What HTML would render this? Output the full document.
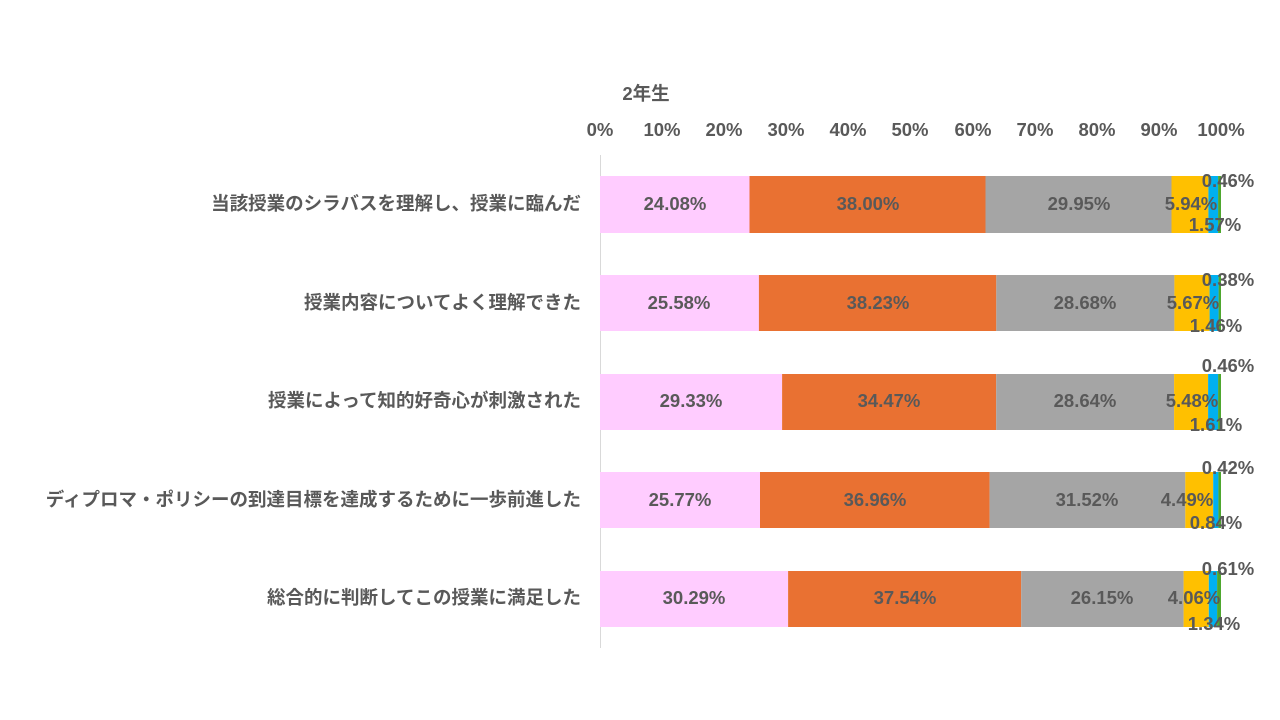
<!DOCTYPE html>
<html><head><meta charset="utf-8"><style>body{margin:0;background:#fff}svg{display:block}text{font-family:"Liberation Sans","Noto Sans CJK JP",sans-serif;font-weight:bold;fill:#595959;font-size:18.5px}</style></head><body>
<svg width="1280" height="720" viewBox="0 0 1280 720">
<text x="646" y="100" text-anchor="middle">2年生</text>
<g text-anchor="middle">
<text x="600" y="136">0%</text><text x="662" y="136">10%</text><text x="724" y="136">20%</text><text x="786" y="136">30%</text><text x="848" y="136">40%</text><text x="910" y="136">50%</text><text x="973" y="136">60%</text><text x="1035" y="136">70%</text><text x="1097" y="136">80%</text><text x="1159" y="136">90%</text><text x="1221" y="136">100%</text>
</g>
<line x1="600.5" y1="155" x2="600.5" y2="648" stroke="#d9d9d9"/>
<g text-anchor="end">
<text x="581" y="210">当該授業のシラバスを理解し、授業に臨んだ</text>
<text x="581" y="309">授業内容についてよく理解できた</text>
<text x="581" y="407">授業によって知的好奇心が刺激された</text>
<text x="581" y="506">ディプロマ・ポリシーの到達目標を達成するために一歩前進した</text>
<text x="581" y="604">総合的に判断してこの授業に満足した</text>
</g>
<g>
<rect x="600" y="176" width="149.5" height="57" fill="#FFCCFF"/><rect x="749.5" y="176" width="236" height="57" fill="#E97132"/><rect x="985.5" y="176" width="186" height="57" fill="#A5A5A5"/><rect x="1171.5" y="176" width="36.9" height="57" fill="#FFC000"/><rect x="1208.4" y="176" width="9.7" height="57" fill="#00B0F0"/><rect x="1218.1" y="176" width="2.9" height="57" fill="#4EA72E"/>
<rect x="600" y="275" width="158.9" height="56" fill="#FFCCFF"/><rect x="758.9" y="275" width="237.4" height="56" fill="#E97132"/><rect x="996.3" y="275" width="178.1" height="56" fill="#A5A5A5"/><rect x="1174.4" y="275" width="35.2" height="56" fill="#FFC000"/><rect x="1209.6" y="275" width="9" height="56" fill="#00B0F0"/><rect x="1218.6" y="275" width="2.4" height="56" fill="#4EA72E"/>
<rect x="600" y="374" width="182.1" height="56" fill="#FFCCFF"/><rect x="782.1" y="374" width="214.1" height="56" fill="#E97132"/><rect x="996.2" y="374" width="177.9" height="56" fill="#A5A5A5"/><rect x="1174.1" y="374" width="34" height="56" fill="#FFC000"/><rect x="1208.1" y="374" width="10" height="56" fill="#00B0F0"/><rect x="1218.1" y="374" width="2.9" height="56" fill="#4EA72E"/>
<rect x="600" y="472" width="160" height="56" fill="#FFCCFF"/><rect x="760" y="472" width="229.6" height="56" fill="#E97132"/><rect x="989.6" y="472" width="195.7" height="56" fill="#A5A5A5"/><rect x="1185.3" y="472" width="27.9" height="56" fill="#FFC000"/><rect x="1213.2" y="472" width="5.2" height="56" fill="#00B0F0"/><rect x="1218.4" y="472" width="2.6" height="56" fill="#4EA72E"/>
<rect x="600" y="571" width="188.1" height="56" fill="#FFCCFF"/><rect x="788.1" y="571" width="233.1" height="56" fill="#E97132"/><rect x="1021.2" y="571" width="162.4" height="56" fill="#A5A5A5"/><rect x="1183.6" y="571" width="25.2" height="56" fill="#FFC000"/><rect x="1208.8" y="571" width="8.3" height="56" fill="#00B0F0"/><rect x="1217.1" y="571" width="3.9" height="56" fill="#4EA72E"/>
</g>
<g text-anchor="middle">
<text x="675" y="210">24.08%</text><text x="868" y="210">38.00%</text><text x="1079" y="210">29.95%</text><text x="1191" y="210">5.94%</text><text x="1228" y="187">0.46%</text><text x="1215" y="231">1.57%</text>
<text x="679" y="309">25.58%</text><text x="878" y="309">38.23%</text><text x="1085" y="309">28.68%</text><text x="1193" y="309">5.67%</text><text x="1228" y="286">0.38%</text><text x="1216" y="332">1.46%</text>
<text x="691" y="407">29.33%</text><text x="889" y="407">34.47%</text><text x="1085" y="407">28.64%</text><text x="1192" y="407">5.48%</text><text x="1228" y="372">0.46%</text><text x="1216" y="431">1.61%</text>
<text x="680" y="506">25.77%</text><text x="875" y="506">36.96%</text><text x="1087" y="506">31.52%</text><text x="1187" y="506">4.49%</text><text x="1228" y="474">0.42%</text><text x="1216" y="529">0.84%</text>
<text x="694" y="604">30.29%</text><text x="905" y="604">37.54%</text><text x="1102" y="604">26.15%</text><text x="1194" y="604">4.06%</text><text x="1228" y="575">0.61%</text><text x="1214" y="630">1.34%</text>
</g>
</svg></body></html>
